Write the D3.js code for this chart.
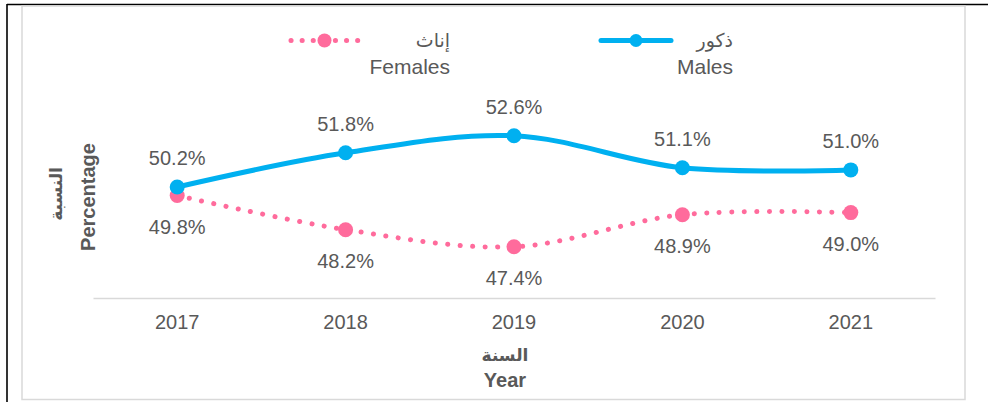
<!DOCTYPE html>
<html>
<head>
<meta charset="utf-8">
<script src="https://cdn.jsdelivr.net/npm/d3@7"></script>
<style>
  html, body { margin: 0; padding: 0; background: #fff; }
  svg { display: block; font-family: "Liberation Sans", Arial, "DejaVu Sans", sans-serif; }
</style>
</head>
<body>
<svg id="chart" width="988" height="402"></svg>
<script>
const years = ["2017", "2018", "2019", "2020", "2021"];
const males = [50.2, 51.8, 52.6, 51.1, 51.0];
const females = [49.8, 48.2, 47.4, 48.9, 49.0];
const yDomain = [45, 55];
const legendArabic = ["ذكور", "إناث"];
const legendEnglish = ["Males", "Females"];
const xTitleArabic = "السنة";
const xTitleEnglish = "Year";
const yTitleArabic = "النسبة";
const yTitleEnglish = "Percentage";

const maleColor = "#00b0f0";
const femaleColor = "#ff6b9c";
const textColor = "#595959";

const svg = d3.select("#chart");

// outer frame (black) and chart area border (light gray)
svg.append("line").attr("x1", 7).attr("x2", 988).attr("y1", 4.5).attr("y2", 4.5)
  .attr("stroke", "#000").attr("stroke-width", 1.6);
svg.append("line").attr("x1", 7).attr("x2", 7).attr("y1", 4).attr("y2", 402)
  .attr("stroke", "#000").attr("stroke-width", 1.6);
svg.append("rect").attr("x", 22).attr("y", 6).attr("width", 943).attr("height", 393.5)
  .attr("fill", "#fff").attr("stroke", "#d9d9d9").attr("stroke-width", 1.5);

const x = d3.scaleBand().domain(years).range([93, 935]);
const y = d3.scaleLinear().domain(yDomain).range([298, 84.5]);
const cx = d => x(d) + x.bandwidth() / 2;

// x axis
const xAxis = svg.append("g").attr("transform", "translate(0,298)")
  .call(d3.axisBottom(x).tickSize(0).tickPadding(17));
xAxis.select(".domain").attr("stroke", "#d9d9d9").attr("stroke-width", 1.5);
xAxis.selectAll("text").attr("fill", textColor).attr("font-size", 20)
  .attr("font-family", "Liberation Sans, Arial, sans-serif");

// axis titles
svg.append("text").attr("x", 505).attr("y", 361).attr("text-anchor", "middle")
  .attr("font-size", 17).attr("font-weight", "bold").attr("fill", textColor)
  .attr("font-family", "DejaVu Sans, sans-serif").text(xTitleArabic);
svg.append("text").attr("x", 505).attr("y", 387).attr("text-anchor", "middle")
  .attr("font-size", 20).attr("font-weight", "bold").attr("fill", textColor).text(xTitleEnglish);

svg.append("text").attr("transform", "translate(62,194) rotate(-90)").attr("text-anchor", "middle")
  .attr("font-size", 17).attr("font-weight", "bold").attr("fill", textColor)
  .attr("font-family", "DejaVu Sans, sans-serif").text(yTitleArabic);
svg.append("text").attr("transform", "translate(95,197) rotate(-90)").attr("text-anchor", "middle")
  .attr("font-size", 20).attr("font-weight", "bold").attr("fill", textColor).text(yTitleEnglish);

// lines
const line = d3.line().x((d, i) => cx(years[i])).y(d => y(d)).curve(d3.curveCatmullRom.alpha(0.5));

svg.append("path").datum(females).attr("d", line).attr("fill", "none")
  .attr("stroke", femaleColor).attr("stroke-width", 5).attr("stroke-linecap", "round")
  .attr("stroke-dasharray", "0.1 12.4");
svg.append("path").datum(males).attr("d", line).attr("fill", "none")
  .attr("stroke", maleColor).attr("stroke-width", 5).attr("stroke-linecap", "round");

svg.selectAll(".fm").data(females).enter().append("circle")
  .attr("cx", (d, i) => cx(years[i])).attr("cy", d => y(d)).attr("r", 7.5).attr("fill", femaleColor);
svg.selectAll(".mm").data(males).enter().append("circle")
  .attr("cx", (d, i) => cx(years[i])).attr("cy", d => y(d)).attr("r", 7.5).attr("fill", maleColor);

// data labels
svg.selectAll(".ml").data(males).enter().append("text")
  .attr("x", (d, i) => cx(years[i])).attr("y", d => y(d) - 22).attr("text-anchor", "middle")
  .attr("font-size", 20).attr("fill", textColor).text(d => d.toFixed(1) + "%");
svg.selectAll(".fl").data(females).enter().append("text")
  .attr("x", (d, i) => cx(years[i])).attr("y", d => y(d) + 38).attr("text-anchor", "middle")
  .attr("font-size", 20).attr("fill", textColor).text(d => d.toFixed(1) + "%");

// legend
const legend = [
  { ar: legendArabic[1], en: legendEnglish[1], color: femaleColor, dotted: true, x1: 291, x2: 358, tx: 450 },
  { ar: legendArabic[0], en: legendEnglish[0], color: maleColor, dotted: false, x1: 601, x2: 671, tx: 733 }
];
legend.forEach(l => {
  const g = svg.append("g");
  g.append("line").attr("x1", l.x1).attr("x2", l.x2).attr("y1", 40.5).attr("y2", 40.5)
    .attr("stroke", l.color).attr("stroke-width", 5).attr("stroke-linecap", "round")
    .attr("stroke-dasharray", l.dotted ? "0.1 11" : null);
  g.append("circle").attr("cx", (l.x1 + l.x2) / 2).attr("cy", 40.5).attr("r", l.dotted ? 7 : 6.5).attr("fill", l.color);
  g.append("text").attr("x", l.tx).attr("y", 47).attr("text-anchor", "end")
    .attr("font-size", 19).attr("fill", textColor).attr("font-family", "DejaVu Sans, sans-serif").text(l.ar);
  g.append("text").attr("x", l.tx).attr("y", 74).attr("text-anchor", "end")
    .attr("font-size", 21).attr("fill", textColor).text(l.en);
});
</script>
</body>
</html>
